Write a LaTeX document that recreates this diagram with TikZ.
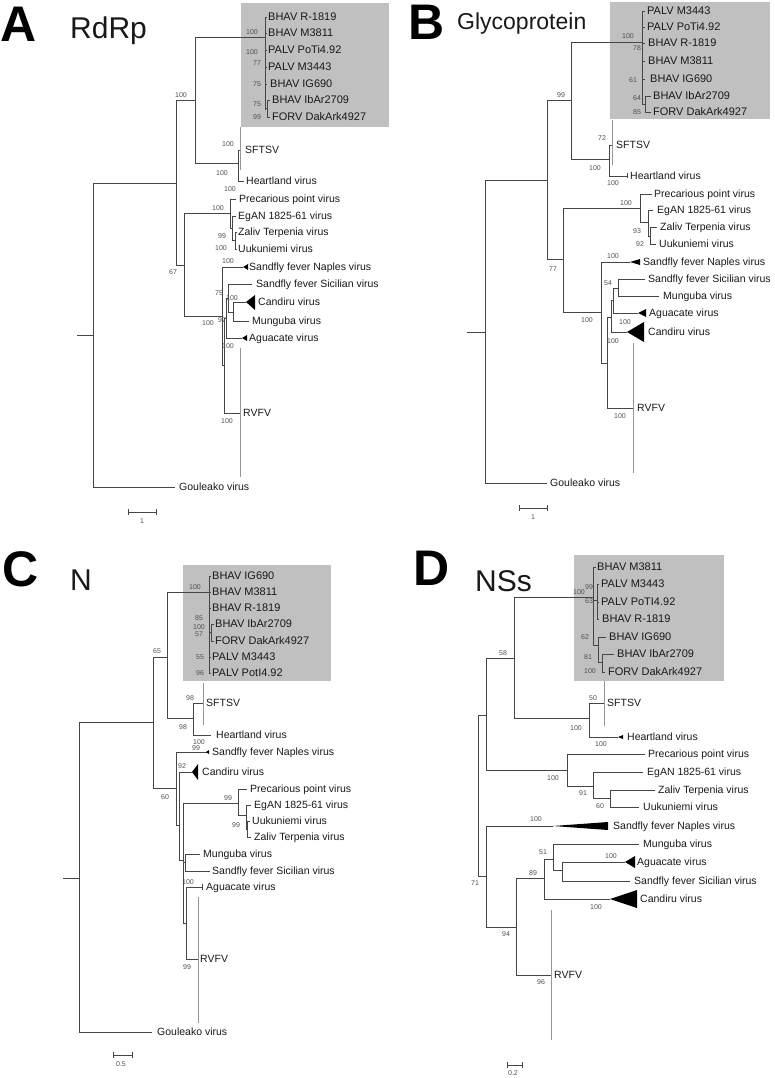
\documentclass[tikz,border=0pt]{standalone}
\usepackage{fontspec}
\setmainfont{Liberation Sans}
\definecolor{boxgray}{RGB}{192,192,192}
\definecolor{linec}{RGB}{70,70,70}
\definecolor{labc}{RGB}{80,80,80}
\definecolor{txt}{RGB}{25,25,25}
\definecolor{collc}{RGB}{150,150,150}
\tikzset{
  br/.style={draw=linec, line width=0.7pt},
  coll/.style={draw=collc, line width=0.7pt},
  tri/.style={fill=black},
  leaf/.style={anchor=west, inner sep=0pt, text height=7.5pt, text depth=0pt, font=\fontsize{10.5}{10.5}\selectfont, text=txt},
  bleaf/.style={leaf, font=\fontsize{11}{11}\selectfont, text height=7.9pt},
  bs/.style={inner sep=0pt, text height=5pt, text depth=0pt, font=\fontsize{7}{7}\selectfont, text=labc},
  panel/.style={anchor=base west, inner sep=0pt, font=\fontsize{50}{50}\selectfont\bfseries},
  ttl/.style={anchor=base west, inner sep=0pt, text=txt}
}
\begin{document}
\begin{tikzpicture}[x=1pt,y=-1pt]
\useasboundingbox (0,0) rectangle (775,1078);

%%%%%%%%%%%%%%%% PANEL A %%%%%%%%%%%%%%%%
\fill[boxgray] (241,3) rectangle (389,127);
\node[panel] (pA) at (0,42) {A};
\node[ttl, font=\fontsize{30}{30}\selectfont] (tA) at (70,39) {RdRp};
\draw[br] (77,335) -- (93,335);
\draw[br] (176,183) -| (93,487) -- (175,487);
\draw[br] (195,100) -| (176,265) -- (184,265);
\draw[br] (265,37) -| (195,163) -- (238,163);
\draw[br] (265,17) -- (265,110);
\foreach \y in {17,33,50,67,84} \draw[br] (265,\y) -- (267,\y);
\draw[br] (265,108) -- (267,108);
\draw[br] (270,100) -| (267,117) -- (270,117);
\draw[br] (240,150) -| (238,181) -- (244,181);
\draw[coll] (240,127) -- (240,170);
\draw[br] (230,213) -| (184,316) -- (222,316);
\draw[br] (236,199) -| (230,228) -- (232,228);
\draw[br] (236,216) -| (232,240) -- (235,240);
\draw[br] (237,232) -| (235,249) -- (237,249);
\draw[br] (243,267) -| (222,365) -- (224,365);
\fill[tri] (243,267) -- (248,264) -- (248,270) -- cycle;
\draw[br] (226,318) -| (224,413) -- (240,413);
\draw[coll] (240,348) -- (240,477);
\draw[br] (228,298) -| (226,338) -- (242,338);
\fill[tri] (242,338) -- (247,335) -- (247,341) -- cycle;
\draw[br] (252,284) -| (228,312) -- (233,312);
\draw[br] (246,302) -| (233,321) -- (249,321);
\fill[tri] (246,302) -- (255,295) -- (255,310) -- cycle;
\draw[br] (128,509) -- (128,515) (128,512) -- (156,512) (156,509) -- (156,515);
\node[bs] (sA) at (142,521) {1};

\node[bleaf] (a1) at (268,17) {BHAV R-1819};
\node[bleaf] (a2) at (268,33) {BHAV M3811};
\node[bleaf] (a3) at (268,50) {PALV PoTi4.92};
\node[bleaf] (a4) at (268,67) {PALV M3443};
\node[bleaf] (a5) at (270,84) {BHAV IG690};
\node[bleaf] (a6) at (272,100) {BHAV IbAr2709};
\node[bleaf] (a7) at (272,117) {FORV DakArk4927};
\node[leaf] (a8) at (245,150) {SFTSV};
\node[leaf] (a9) at (246,181) {Heartland virus};
\node[leaf] (a10) at (239,199) {Precarious point virus};
\node[leaf] (a11) at (238,216) {EgAN 1825-61 virus};
\node[leaf] (a12) at (238,232) {Zaliv Terpenia virus};
\node[leaf] (a13) at (238,249) {Uukuniemi virus};
\node[leaf] (a14) at (249,267) {Sandfly fever Naples virus};
\node[leaf] (a15) at (256,284) {Sandfly fever Sicilian virus};
\node[leaf] (a16) at (258,302) {Candiru virus};
\node[leaf] (a17) at (252,321) {Munguba virus};
\node[leaf] (a18) at (249,338) {Aguacate virus};
\node[leaf] (a19) at (243,413) {RVFV};
\node[leaf] (a20) at (179,487) {Gouleako virus};

\node[bs] (ba1) at (252,32) {100};
\node[bs] (ba2) at (252,52) {100};
\node[bs] (ba3) at (257,63) {77};
\node[bs] (ba4) at (257,84) {75};
\node[bs] (ba5) at (257,104) {75};
\node[bs] (ba6) at (257,117) {99};
\node[bs] (ba7) at (181,95) {100};
\node[bs] (ba8) at (228,144) {100};
\node[bs] (ba9) at (222,173) {100};
\node[bs] (ba10) at (230,189) {100};
\node[bs] (ba11) at (173,272) {67};
\node[bs] (ba12) at (218,208) {100};
\node[bs] (ba13) at (222,236) {99};
\node[bs] (ba14) at (221,248) {100};
\node[bs] (ba15) at (228,261) {100};
\node[bs] (ba16) at (219,293) {75};
\node[bs] (ba17) at (232,298) {100};
\node[bs] (ba18) at (222,320) {97};
\node[bs] (ba19) at (208,323) {100};
\node[bs] (ba20) at (228,346) {100};
\node[bs] (ba21) at (227,421) {100};

%%%%%%%%%%%%%%%% PANEL B %%%%%%%%%%%%%%%%
\fill[boxgray] (610,2) rectangle (770,119);
\node[panel] (pB) at (408,40) {B};
\node[ttl, font=\fontsize{23}{23}\selectfont] (tB) at (457,30) {Glycoprotein};
\draw[br] (467,332) -- (485,332);
\draw[br] (547,180) -| (485,483) -- (547,483);
\draw[br] (571,100) -| (547,259) -- (563,259);
\draw[br] (642,42) -| (571,159) -- (609,159);
\draw[br] (642,11) -- (642,104);
\foreach \y in {11,27,43,61,79} \draw[br] (642,\y) -- (645,\y);
\draw[br] (642,104) -- (645,104);
\draw[br] (651,96) -| (645,112) -- (651,112);
\draw[br] (612,145) -| (609,176) -- (627,176);
\draw[br] (627,173.5) -- (627,178.5);
\draw[coll] (612,120) -- (612,165);
\draw[br] (640,208) -| (563,312) -- (601,312);
\draw[br] (652,194) -| (640,222) -- (648,222);
\draw[br] (653,210) -| (648,236) -- (650,236);
\draw[br] (657,227) -| (650,244) -- (656,244);
\draw[br] (630,262) -| (601,363) -- (607,363);
\fill[tri] (630,262) -- (640,259) -- (640,265) -- cycle;
\draw[br] (611,317) -| (607,408) -- (633,408);
\draw[coll] (633,343) -- (633,473);
\draw[br] (613,300) -| (611,332) -- (627,332);
\fill[tri] (627,332) -- (644,322) -- (644,342) -- cycle;
\draw[br] (618,288) -| (613,313) -- (638,313);
\fill[tri] (638,313) -- (646,309) -- (646,317) -- cycle;
\draw[br] (645,279) -| (618,296) -- (659,296);
\draw[br] (519,505) -- (519,511) (519,508) -- (547,508) (547,505) -- (547,511);
\node[bs] (sB) at (533,517) {1};

\node[bleaf] (b1) at (647,11) {PALV M3443};
\node[bleaf] (b2) at (647,27) {PALV PoTi4.92};
\node[bleaf] (b3) at (648,43) {BHAV R-1819};
\node[bleaf] (b4) at (648,61) {BHAV M3811};
\node[bleaf] (b5) at (650,79) {BHAV IG690};
\node[bleaf] (b6) at (653,96) {BHAV IbAr2709};
\node[bleaf] (b7) at (653,112) {FORV DakArk4927};
\node[leaf] (b8) at (616,145) {SFTSV};
\node[leaf] (b9) at (630,176) {Heartland virus};
\node[leaf] (b10) at (654,194) {Precarious point virus};
\node[leaf] (b11) at (657,210) {EgAN 1825-61 virus};
\node[leaf] (b12) at (660,227) {Zaliv Terpenia virus};
\node[leaf] (b13) at (659,244) {Uukuniemi virus};
\node[leaf] (b14) at (643,262) {Sandfly fever Naples virus};
\node[leaf] (b15) at (648,279) {Sandfly fever Sicilian virus};
\node[leaf] (b16) at (663,296) {Munguba virus};
\node[leaf] (b17) at (649,313) {Aguacate virus};
\node[leaf] (b18) at (648,332) {Candiru virus};
\node[leaf] (b19) at (637,408) {RVFV};
\node[leaf] (b20) at (550,483) {Gouleako virus};

\node[bs] (bb1) at (628,36) {100};
\node[bs] (bb2) at (637,48) {78};
\node[bs] (bb3) at (633,80) {61};
\node[bs] (bb4) at (637,98) {64};
\node[bs] (bb5) at (637,112) {85};
\node[bs] (bb6) at (561,95) {99};
\node[bs] (bb7) at (602,138) {72};
\node[bs] (bb8) at (595,168) {100};
\node[bs] (bb9) at (613,183) {100};
\node[bs] (bb10) at (553,269) {77};
\node[bs] (bb11) at (626,203) {100};
\node[bs] (bb12) at (637,231) {93};
\node[bs] (bb13) at (640,244) {92};
\node[bs] (bb14) at (613,256) {100};
\node[bs] (bb15) at (608,283) {54};
\node[bs] (bb16) at (625,322) {100};
\node[bs] (bb17) at (613,341) {100};
\node[bs] (bb18) at (587,320) {100};
\node[bs] (bb19) at (620,416) {100};

%%%%%%%%%%%%%%%% PANEL C %%%%%%%%%%%%%%%%
\fill[boxgray] (183,565) rectangle (331,681);
\node[panel] (pC) at (2,586) {C};
\node[ttl, font=\fontsize{30}{30}\selectfont] (tC) at (70,590) {N};
\draw[br] (63,878) -- (79,878);
\draw[br] (153,722) -| (79,1032) -- (152,1032);
\draw[br] (167,657) -| (153,788) -- (176,788);
\draw[br] (209,592) -| (167,718) -- (193,718);
\draw[br] (209,576) -- (209,673);
\foreach \y in {576,592,608,657,673} \draw[br] (209,\y) -- (211,\y);
\draw[br] (209,632) -- (211,632);
\draw[br] (214,624) -| (211,641) -- (214,641);
\draw[br] (203,703) -| (193,735) -- (211,735);
\draw[coll] (203,683) -- (203,725);
\draw[br] (207,752) -| (176,825) -- (179,825);
\fill[tri] (206,752) -- (209,750) -- (209,754) -- cycle;
\draw[br] (192,772) -| (179,860) -- (183,860);
\fill[tri] (192,772) -- (198,764) -- (198,780) -- cycle;
\draw[br] (238,803) -| (183,923) -- (186,923);
\draw[br] (183,862) -- (185,862);
\draw[br] (200,854) -| (185,871) -- (210,871);
\draw[br] (202,887) -| (186,959) -- (198,959);
\draw[br] (202,884) -- (202,890);
\draw[coll] (198,897) -- (198,1023);
\draw[br] (247,789) -| (238,815) -- (246,815);
\draw[br] (251,805) -| (246,829) -- (247,829);
\draw[br] (250,821) -| (247,837) -- (251,837);
\draw[br] (113,1052) -- (113,1058) (113,1055) -- (132,1055) (132,1052) -- (132,1058);
\node[bs] (sC) at (121,1064) {0.5};

\node[bleaf] (c1) at (212,576) {BHAV IG690};
\node[bleaf] (c2) at (212,592) {BHAV M3811};
\node[bleaf] (c3) at (212,608) {BHAV R-1819};
\node[bleaf] (c4) at (215,624) {BHAV IbAr2709};
\node[bleaf] (c5) at (215,641) {FORV DakArk4927};
\node[bleaf] (c6) at (212,657) {PALV M3443};
\node[bleaf] (c7) at (212,673) {PALV PotI4.92};
\node[leaf] (c8) at (206,703) {SFTSV};
\node[leaf] (c9) at (216,735) {Heartland virus};
\node[leaf] (c10) at (212,752) {Sandfly fever Naples virus};
\node[leaf] (c11) at (202,772) {Candiru virus};
\node[leaf] (c12) at (250,789) {Precarious point virus};
\node[leaf] (c13) at (254,805) {EgAN 1825-61 virus};
\node[leaf] (c14) at (252,821) {Uukuniemi virus};
\node[leaf] (c15) at (254,837) {Zaliv Terpenia virus};
\node[leaf] (c16) at (203,854) {Munguba virus};
\node[leaf] (c17) at (212,871) {Sandfly fever Sicilian virus};
\node[leaf] (c18) at (206,887) {Aguacate virus};
\node[leaf] (c19) at (200,959) {RVFV};
\node[leaf] (c20) at (157,1032) {Gouleako virus};

\node[bs] (bc1) at (195,587) {100};
\node[bs] (bc2) at (199,618) {85};
\node[bs] (bc3) at (199,627) {100};
\node[bs] (bc4) at (199,634) {57};
\node[bs] (bc5) at (200,657) {55};
\node[bs] (bc6) at (200,673) {96};
\node[bs] (bc7) at (157,651) {65};
\node[bs] (bc8) at (190,698) {98};
\node[bs] (bc9) at (183,727) {98};
\node[bs] (bc10) at (199,742) {100};
\node[bs] (bc11) at (196,748) {99};
\node[bs] (bc12) at (165,797) {60};
\node[bs] (bc13) at (182,766) {92};
\node[bs] (bc14) at (228,798) {99};
\node[bs] (bc15) at (236,825) {99};
\node[bs] (bc16) at (188,882) {100};
\node[bs] (bc17) at (187,967) {99};

%%%%%%%%%%%%%%%% PANEL D %%%%%%%%%%%%%%%%
\fill[boxgray] (574,555) rectangle (724,681);
\node[panel] (pD) at (413,585) {D};
\node[ttl, font=\fontsize{30}{30}\selectfont] (tD) at (475,591) {NSs};
\draw[br] (486,715) -| (478,876) -- (486,876);
\draw[br] (514,658) -| (486,770) -- (567,770);
\draw[br] (593,597) -| (514,718) -- (589,718);
\draw[br] (593,567) -- (593,645);
\draw[br] (593,567) -- (596,567);
\draw[br] (593,600) -- (597,600);
\draw[br] (597,584) -- (597,619);
\foreach \y in {584,602,619} \draw[br] (597,\y) -- (599,\y);
\draw[br] (593,645) -- (598,645);
\draw[br] (606,637) -| (598,662) -- (602,662);
\draw[br] (614,654) -| (602,672) -- (605,672);
\draw[br] (604,703) -| (589,737) -- (618,737);
\fill[tri] (618,737) -- (623,735) -- (623,739) -- cycle;
\draw[coll] (604,681) -- (604,726);
\draw[br] (645,754) -| (567,786) -- (593,786);
\draw[br] (643,772) -| (593,798) -- (610,798);
\draw[br] (655,790) -| (610,807) -- (639,807);
\draw[br] (553,826) -| (486,927) -- (516,927);
\fill[tri] (553,826) -- (608,822) -- (608,830) -- cycle;
\draw[br] (544,878) -| (516,975) -- (551,975);
\draw[coll] (551,910) -- (551,1040);
\draw[br] (553,859) -| (544,899) -- (610,899);
\fill[tri] (610,899) -- (637,890) -- (637,908) -- cycle;
\draw[br] (639,844) -| (553,870) -- (562,870);
\draw[br] (625,862) -| (562,881) -- (630,881);
\fill[tri] (625,862) -- (635,856) -- (635,868) -- cycle;
\draw[br] (507,1062) -- (507,1068) (507,1065) -- (522,1065) (522,1062) -- (522,1068);
\node[bs] (sD) at (513,1073) {0.2};

\node[bleaf] (d1) at (597,567) {BHAV M3811};
\node[bleaf] (d2) at (601,584) {PALV M3443};
\node[bleaf] (d3) at (601,602) {PALV PoTI4.92};
\node[bleaf] (d4) at (602,619) {BHAV R-1819};
\node[bleaf] (d5) at (609,637) {BHAV IG690};
\node[bleaf] (d6) at (617,654) {BHAV IbAr2709};
\node[bleaf] (d7) at (608,672) {FORV DakArk4927};
\node[leaf] (d8) at (607,703) {SFTSV};
\node[leaf] (d9) at (627,737) {Heartland virus};
\node[leaf] (d10) at (648,754) {Precarious point virus};
\node[leaf] (d11) at (647,772) {EgAN 1825-61 virus};
\node[leaf] (d12) at (658,790) {Zaliv Terpenia virus};
\node[leaf] (d13) at (643,807) {Uukuniemi virus};
\node[leaf] (d14) at (613,826) {Sandfly fever Naples virus};
\node[leaf] (d15) at (643,844) {Munguba virus};
\node[leaf] (d16) at (637,862) {Aguacate virus};
\node[leaf] (d17) at (634,881) {Sandfly fever Sicilian virus};
\node[leaf] (d18) at (640,899) {Candiru virus};
\node[leaf] (d19) at (554,975) {RVFV};

\node[bs] (bd1) at (579,592) {100};
\node[bs] (bd2) at (589,587) {99};
\node[bs] (bd3) at (589,601) {63};
\node[bs] (bd4) at (585,637) {62};
\node[bs] (bd5) at (588,657) {81};
\node[bs] (bd6) at (590,671) {100};
\node[bs] (bd7) at (503,653) {58};
\node[bs] (bd8) at (593,698) {50};
\node[bs] (bd9) at (576,728) {100};
\node[bs] (bd10) at (601,744) {100};
\node[bs] (bd11) at (553,778) {100};
\node[bs] (bd12) at (583,793) {91};
\node[bs] (bd13) at (600,806) {60};
\node[bs] (bd14) at (536,819) {100};
\node[bs] (bd15) at (543,852) {51};
\node[bs] (bd16) at (611,856) {100};
\node[bs] (bd17) at (533,873) {89};
\node[bs] (bd18) at (475,883) {71};
\node[bs] (bd19) at (596,907) {100};
\node[bs] (bd20) at (506,934) {94};
\node[bs] (bd21) at (541,982) {96};
\end{tikzpicture}
\end{document}
